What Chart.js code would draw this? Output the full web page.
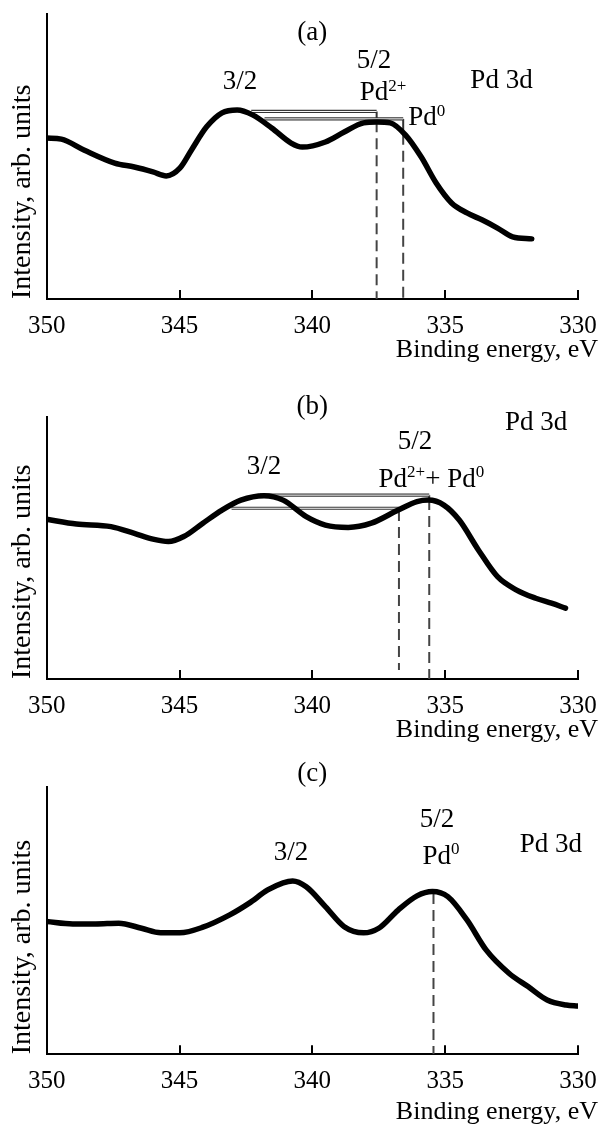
<!DOCTYPE html>
<html>
<head>
<meta charset="utf-8">
<title>Pd 3d XPS</title>
<script src="https://cdn.jsdelivr.net/npm/chart.js@4.4.1/dist/chart.umd.min.js"></script>
<style>
  html, body { margin: 0; padding: 0; background: #fff; }
  #page { position: relative; width: 600px; height: 1127px; overflow: hidden; }
  .panel { position: absolute; left: 0; width: 600px; }
</style>
</head>
<body>
<div id="page">
  <div class="panel" style="top:0;height:375px"><canvas id="chartA"></canvas></div>
  <div class="panel" style="top:375px;height:375px"><canvas id="chartB"></canvas></div>
  <div class="panel" style="top:750px;height:377px"><canvas id="chartC"></canvas></div>
</div>
<script>
// x axis (binding energy, eV)
const xTicks = [350, 345, 340, 335, 330];

// (a) spectrum
const energyA = [350, 349.45, 348.6, 347.44, 346.7, 346.0, 345.5, 344.98, 344.55, 343.98, 343.4, 342.83,
  342.25, 341.53, 340.8, 340.38, 339.51, 338.8, 338.07, 337.57, 337.07, 336.49, 335.9, 335.34, 334.76,
  334.18, 333.6, 333.03, 332.46, 331.74];
const intensityA = [56.5, 56.1, 52.3, 47.7, 46.3, 44.6, 43.2, 46.0, 52.3, 60.4, 65.3, 66.3,
  64.6, 60.0, 54.7, 53.3, 55.1, 58.6, 61.8, 62.1, 61.8, 57.5, 49.8, 40.7, 33.7,
  30.2, 27.7, 24.9, 21.8, 21.1];
// [from eV, to eV, level, foot on curve]
const bracketsA = [[342.3, 337.58, 65.8, 62.4], [341.8, 336.58, 63.2, 58.0]];
// [eV, from, to]
const dashesA = [[337.58, 62.4, 0], [336.58, 58.0, 0]];
const labelsA = [
  ['(a)', 340.0, 93.5],
  ['3/2', 342.72, 76.2],
  ['5/2', 337.68, 83.5],
  ['Pd^{2+}', 337.34, 72.2],
  ['Pd^{0}', 335.69, 63.4],
  ['Pd 3d', 332.88, 76.5],
];

// (b) spectrum
const energyB = [350, 348.88, 347.58, 346.7, 346.0, 345.42, 344.84, 344.12, 343.4, 342.69, 341.82, 341.1,
  340.23, 339.51, 338.65, 337.78, 336.77, 336.06, 335.63, 335.05, 334.47, 333.75, 333.03, 332.31,
  331.59, 331.0, 330.47];
const intensityB = [60.9, 59.1, 58.1, 55.5, 53.3, 52.4, 54.3, 59.4, 64.4, 68.2, 69.9, 68.2,
  61.9, 58.7, 57.8, 59.4, 64.4, 67.6, 68.2, 66.3, 60.6, 49.2, 39.0, 33.9,
  30.8, 28.9, 27.0];
const bracketsB = [[341.97, 335.6, 70.1, 68.6], [343.04, 336.74, 65.1, 64.4]];
const dashesB = [[335.6, 68.6, 0], [336.74, 64.4, 3.4]];
const labelsB = [
  ['(b)', 340.0, 103.7],
  ['Pd 3d', 331.58, 97.6],
  ['5/2', 336.14, 90.5],
  ['3/2', 341.82, 80.9],
  ['Pd^{2+}+ Pd^{0}', 335.52, 75.9],
];

// (c) spectrum
const energyC = [350, 349.02, 348.16, 347.29, 346.43, 345.71, 344.99, 344.12, 343.11, 342.39, 341.68, 341.1,
  340.74, 340.23, 339.51, 338.8, 338.07, 337.5, 336.77, 336.06, 335.48, 334.9, 334.18, 333.46,
  332.6, 331.88, 331.16, 330.44, 330.0];
const intensityC = [49.6, 48.7, 48.7, 49.0, 47.1, 45.4, 45.4, 47.5, 52.1, 56.4, 61.4, 64.1,
  64.8, 62.6, 55.2, 47.7, 45.4, 47.1, 53.9, 59.2, 60.8, 58.9, 50.2, 39.0,
  30.3, 25.3, 20.3, 18.4, 18.0];
const bracketsC = [];
const dashesC = [[335.44, 60.3, 0]];
const labelsC = [
  ['(c)', 340.0, 104.7],
  ['5/2', 335.31, 87.6],
  ['3/2', 340.8, 75.1],
  ['Pd^{0}', 335.16, 73.8],
  ['Pd 3d', 331.02, 78.2],
];

const FONT = "'Liberation Serif', 'Times New Roman', serif";
const AXIS_LEFT = 46.7;
const AXIS_RIGHT = 578;
const LABEL_FONT = `27px ${FONT}`;
const SUP_FONT = `17px ${FONT}`;

// draws peak labels (with superscripts) and the x axis title
const textPlugin = {
  id: 'panelText',
  afterDraw(chart, args, opts) {
    const { ctx } = chart;
    const x = chart.scales.x, y = chart.scales.y;
    ctx.save();
    ctx.fillStyle = '#000';
    ctx.textBaseline = 'middle';
    ctx.textAlign = 'left';
    opts.labels.forEach(([text, ev, val]) => {
      const parts = text.split(/\^\{([^}]*)\}/);
      let w = 0;
      parts.forEach((p, i) => {
        ctx.font = i % 2 ? SUP_FONT : LABEL_FONT;
        w += ctx.measureText(p).width;
      });
      let px = x.getPixelForValue(ev) - w / 2;
      const py = y.getPixelForValue(val);
      parts.forEach((p, i) => {
        ctx.font = i % 2 ? SUP_FONT : LABEL_FONT;
        ctx.fillText(p, px, i % 2 ? py - 7 : py);
        px += ctx.measureText(p).width;
      });
    });
    ctx.font = `26px ${FONT}`;
    ctx.textAlign = 'right';
    ctx.fillText('Binding energy, eV', 598, opts.titleY);
    ctx.restore();
  }
};

function buildDatasets(energy, intensity, brackets, dashes) {
  const sets = [{
    data: energy.map((e, i) => ({ x: e, y: intensity[i] })),
    borderColor: '#000',
    borderWidth: 5.5,
    cubicInterpolationMode: 'monotone',
    borderCapStyle: 'round',
    borderJoinStyle: 'round',
    order: 0,
  }];
  brackets.forEach(([from, to, level, foot]) => {
    const h = [{ x: from, y: level }, { x: to, y: level }];
    sets.push({ data: h, borderColor: '#fff', borderWidth: 1, order: 1 });
    sets.push({ data: h, borderColor: '#333', borderWidth: 3.2, order: 2 });
    sets.push({ data: [{ x: to, y: level }, { x: to, y: foot }], borderColor: '#333', borderWidth: 2, order: 2 });
  });
  dashes.forEach(([at, from, to]) => {
    sets.push({
      data: [{ x: at, y: from }, { x: at, y: to }],
      borderColor: '#444',
      borderWidth: 2,
      borderDash: [11, 6],
      order: 3,
    });
  });
  return sets;
}

function makeChart(id, canvasH, top, bottom, titleY, energy, intensity, brackets, dashes, labels) {
  return new Chart(document.getElementById(id), {
    type: 'line',
    data: { datasets: buildDatasets(energy, intensity, brackets, dashes) },
    options: {
      responsive: true,
      maintainAspectRatio: false,
      animation: false,
      events: [],
      elements: { point: { radius: 0 }, line: { fill: false } },
      layout: { padding: { top: top, right: 0, left: 0, bottom: 0 } },
      scales: {
        x: {
          type: 'linear',
          reverse: true,
          min: xTicks[xTicks.length - 1],
          max: xTicks[0],
          afterBuildTicks(scale) {
            scale.ticks = xTicks.map(v => ({ value: v }));
          },
          ticks: {
            color: '#000',
            font: { family: FONT, size: 25 },
            padding: 21,
            maxRotation: 0,
            autoSkip: false,
          },
          grid: { drawOnChartArea: false, tickLength: -9, color: '#000', lineWidth: 2 },
          border: { display: true, color: '#000', width: 2 },
          afterFit(scale) {
            scale.height = canvasH - bottom;
            scale.paddingLeft = 0;
            scale.paddingRight = 600 - AXIS_RIGHT;
          },
        },
        y: {
          min: 0,
          max: 100,
          ticks: { display: false },
          grid: { drawOnChartArea: false, drawTicks: false },
          border: { display: true, color: '#000', width: 2 },
          title: {
            display: true,
            text: 'Intensity, arb. units',
            align: 'start',
            color: '#000',
            font: { family: FONT, size: 28 },
            padding: { top: 6, bottom: 0 },
          },
          afterFit(scale) { scale.width = AXIS_LEFT; },
        },
      },
      plugins: {
        legend: { display: false },
        tooltip: { enabled: false },
        panelText: { labels: labels, titleY: titleY },
      },
    },
    plugins: [textPlugin],
  });
}

makeChart('chartA', 375, 14, 299, 350, energyA, intensityA, bracketsA, dashesA, labelsA);
makeChart('chartB', 375, 41.7, 304, 355, energyB, intensityB, bracketsB, dashesB, labelsB);
makeChart('chartC', 377, 36.7, 304.3, 362, energyC, intensityC, bracketsC, dashesC, labelsC);
</script>
</body>
</html>
